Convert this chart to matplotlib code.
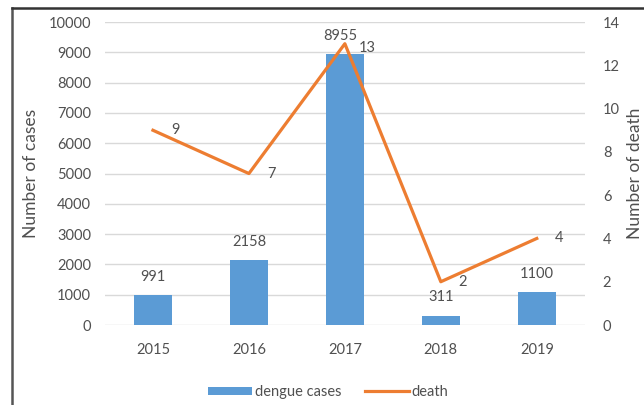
import matplotlib.pyplot as plt
from matplotlib.lines import Line2D

years = ["2015", "2016", "2017", "2018", "2019"]
cases = [991, 2158, 8955, 311, 1100]
deaths = [9, 7, 13, 2, 4]

BLUE = "#5B9BD5"
ORANGE = "#ED7D31"
TXT = "#505050"
GRID = "#D9D9D9"

plt.rcParams['font.family'] = ['Lato', 'DejaVu Sans']

fig = plt.figure(figsize=(6.44, 4.05), dpi=100)
ax = fig.add_axes([0.163, 0.1975, 0.745, 0.748])
ax2 = ax.twinx()

x = list(range(len(years)))
bars = ax.bar(x, cases, width=0.4, color=BLUE, zorder=2, label="dengue cases")
ax.set_ylim(0, 10000)
ax.set_yticks(range(0, 10001, 1000))
ax.set_xlim(-0.5, 4.5)
ax.set_xticks(x)
ax.set_xticklabels(years)
ax.grid(axis='y', color=GRID, lw=1, zorder=0)
ax.set_axisbelow(True)

for xi, v in zip(x, cases):
    dx = -3 if v == max(cases) else 0
    ax.annotate(str(v), (xi, v), xytext=(dx, 8), textcoords='offset points',
                ha='center', va='bottom', fontsize=10.5, color=TXT)

line, = ax2.plot(x, deaths, color=ORANGE, lw=2.3, zorder=3, label="death")
ax2.set_ylim(0, 14)
ax2.set_yticks(range(0, 15, 2))
for xi, v in zip(x, deaths):
    dy = -3 if v == max(deaths) else 0
    ax2.annotate(str(v), (xi, v), xytext=(16, dy), textcoords='offset points',
                 ha='center', va='center', fontsize=10.5, color=TXT)

for a in (ax, ax2):
    for s in a.spines.values():
        s.set_visible(False)
    a.tick_params(length=0, colors=TXT, labelsize=10.5)
ax.tick_params(axis='y', pad=10)
ax.tick_params(axis='x', pad=13)
ax2.tick_params(axis='y', pad=13)

ax.set_ylabel("Number of cases", fontsize=12.5, color=TXT, labelpad=7)
ax2.set_ylabel("Number of death", fontsize=12.5, color=TXT, rotation=90, labelpad=5)

fig.legend(handles=[bars, line], labels=["dengue cases", "death"],
           loc='center', bbox_to_anchor=(0.51, 0.032), ncol=2, frameon=False,
           fontsize=10.5, labelcolor=TXT, handlelength=3.0, handleheight=0.5,
           columnspacing=1.6, handletextpad=0.2)

# frame edges along the top and left of the figure
fig.add_artist(Line2D([12 / 644, 12 / 644], [0, 1 - 8 / 405], color="#555555", lw=1.8))
fig.add_artist(Line2D([12 / 644, 1], [1 - 8 / 405, 1 - 8 / 405], color="#333333", lw=1.8))

fig.savefig("out.png", dpi=100)
